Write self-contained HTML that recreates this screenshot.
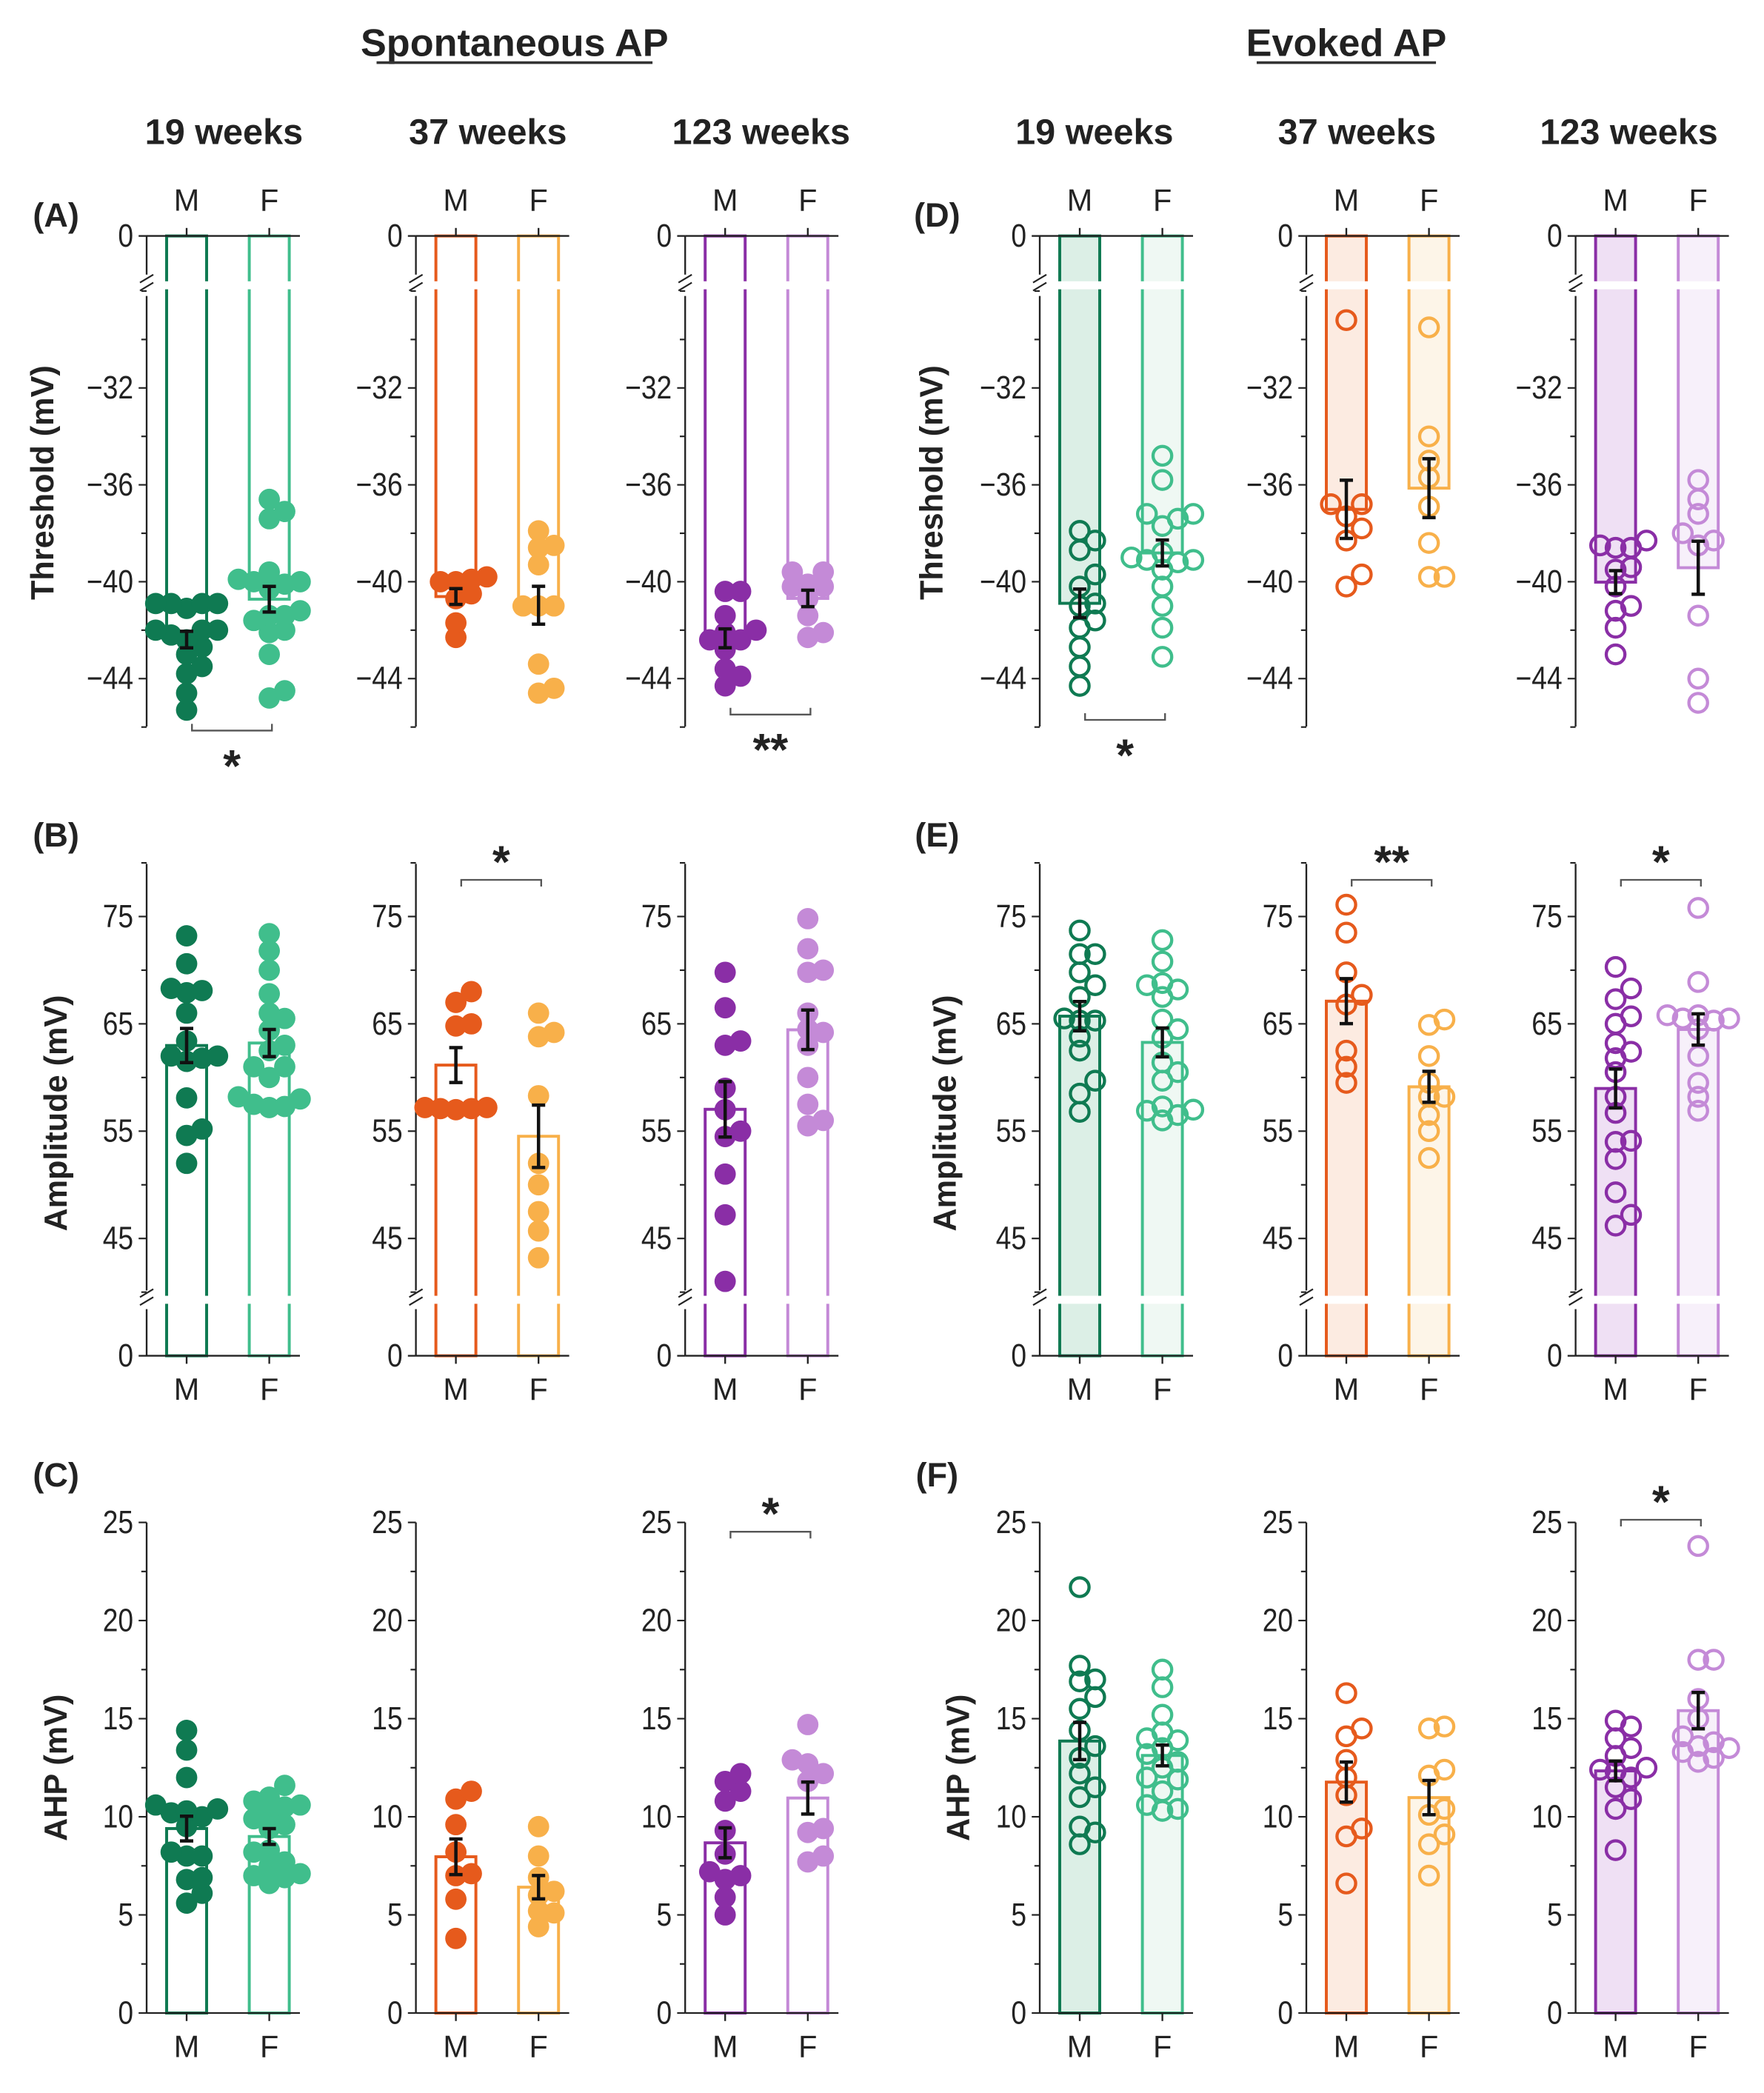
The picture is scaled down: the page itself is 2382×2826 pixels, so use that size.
<!DOCTYPE html>
<html><head><meta charset="utf-8"><style>
html,body{margin:0;padding:0;background:#fff}
svg{display:block}
text{font-family:"Liberation Sans",Arial,sans-serif;fill:#222}
</style></head><body>
<svg id="fig" xmlns="http://www.w3.org/2000/svg" width="2382" height="2826" viewBox="0 0 1323.33 1570"></svg>
<script>
const thrSpM = [[-40.9,-40.9,-40.9,-40.9,-41.1,-42,-42,-42,-42.2,-42.4,-42.7,-43,-43.5,-43.8,-44.6,-45.3],[-39.8,-39.9,-40,-40,-40.5,-40.7,-41.7,-42.3],[-40.4,-40.4,-41.4,-42,-42.1,-42.4,-42.4,-42.8,-43.6,-43.9,-44.3]];
const thrSpF = [[-36.6,-37.1,-37.4,-39.6,-39.9,-40,-40,-40.1,-40.3,-41.2,-41.4,-41.4,-41.6,-42,-42.1,-43,-44.5,-44.8],[-37.9,-38.5,-38.6,-39.3,-41,-41,-41,-43.4,-44.4,-44.6],[-39.6,-39.6,-40.1,-40.2,-40.2,-40.7,-41.4,-42.1,-42.3]];
const thrEvM = [[-37.9,-38.3,-38.7,-39.7,-40.2,-40.9,-41,-41.6,-41.9,-42.7,-43.5,-44.3],[-29.2,-36.8,-36.8,-37.3,-37.8,-38.3,-39.7,-40.2],[-38.3,-38.5,-38.6,-38.6,-39.4,-39.5,-40.2,-41,-41.2,-41.9,-43]];
const thrEvF = [[-34.8,-35.8,-37.2,-37.2,-37.4,-37.7,-38.8,-39,-39.1,-39.1,-39.2,-39.5,-40.2,-41,-41.9,-43.1],[-29.5,-34,-35,-35.7,-36.9,-38.4,-39.8,-39.8],[-35.8,-36.6,-37.2,-38,-38.3,-38.5,-41.4,-44,-45]];
const ampSpM = [[73.2,70.6,68.3,68.1,67.9,66,63.4,62,62,61.8,61.5,58.1,55.2,54.6,52],[68,67,65,64.8,57.2,57.1,57.1,57.2,57],[69.8,66.5,63.4,63,59,57,55,54.5,51,47.2,41]];
const ampSpF = [[73.4,71.8,70,67.8,66,65.5,64.4,63,62.5,61,61,60,58.2,58,57.5,57.3,57.2],[66,64.2,63.8,58.3,52,50,47.5,45.7,43.2],[74.8,72,70,69.8,66,64.5,64.2,63,60,57.5,56,55.5]];
const ampEvM = [[73.7,71.5,71.5,69.8,68.6,67.5,65.5,65.3,65.3,63.8,62.5,59.7,58.5,56.8],[76.1,73.5,69.8,67.7,66.8,62.5,61,59.5],[70.3,68.3,67.3,65.7,65,63.2,62.4,61.8,60.5,58.2,56.7,54.1,54,52.4,49.3,47.2,46.2]];
const ampEvF = [[72.8,70.8,68.6,68.8,68.2,67.5,65.4,64.5,63.7,61.4,60.5,59.7,57.3,57,56.5,56,56.9],[65.4,64.9,62,59.5,58.2,58.2,56.5,55,52.5],[75.8,68.9,65.8,65.8,65.5,65.5,65.3,64.5,62,59.5,58.2,56.9]];
const ahpSpM = [[14.4,13.4,12,10.6,10.4,10.3,10.2,10,9.5,8.2,8,8,6.9,6.8,6.1,5.6],[11.3,10.9,9.6,8.2,7.1,7,5.8,3.8],[12.2,11.8,11.3,10.8,9.3,8.1,7.2,7,6.8,5.9,5]];
const ahpSpF = [[11.6,11,10.8,10.6,10.5,10.2,9.9,9.6,9.4,8.3,8.2,7.7,7.5,7.1,7,6.9,6.6],[9.5,8,6.9,6.2,6,5.2,5.1,4.4],[14.7,12.9,12.7,12.2,11.8,9.4,9.2,8,7.7]];
const ahpEvM = [[21.7,17.7,17,16.9,16.1,15.5,14.4,13.6,13,12.2,11.5,11,9.5,9.2,8.6],[16.3,14.5,14.1,12.9,12,11.1,9.4,9,6.6],[14.9,14.6,14,13.5,13.1,12.5,12.4,12.3,12,11.5,10.9,10.4,8.3]];
const ahpEvF = [[17.5,16.6,15.2,14.3,14,13.9,13.5,13.2,12.8,12.5,12,11.9,11.3,10.6,10.4,10.3],[14.6,14.5,12.4,12.1,10.4,10.1,9.1,8.6,7],[23.8,18,18,16,15,14.1,13.8,13.6,13.5,13.3,13,12.8]];
const weekLabels = ["19 weeks","37 weeks","123 weeks"];
const sexLabels = ["M","F"];
const thrTicks = [-44,-40,-36,-32];
const ampTicks = [45,55,65,75];
const ahpTicks = [0,5,10,15,20,25];

const NS="http://www.w3.org/2000/svg";
const svg=document.getElementById('fig');
function mk(tag,attrs,parent){const e=document.createElementNS(NS,tag);for(const k in attrs)e.setAttribute(k,attrs[k]);(parent||svg).appendChild(e);return e;}
function txt(s,x,y,size,anchor,bold,parent){const t=mk('text',{x:x,y:y,'font-size':size,'text-anchor':anchor||'middle'},parent);if(bold)t.setAttribute('font-weight','bold');t.textContent=s;return t;}
function tick(s,x,y,parent){const t=mk('text',{x:0,y:0,'font-size':24,'text-anchor':'end',transform:`translate(${x} ${y}) scale(0.86 1)`},parent);t.textContent=s;return t;}
const mean=a=>a.reduce((s,v)=>s+v,0)/a.length;
const sem=a=>{const m=mean(a);return Math.sqrt(a.reduce((s,v)=>s+(v-m)*(v-m),0)/(a.length-1))/Math.sqrt(a.length);};

const cols=[["#0f7a52","#40be8c"],["#e65a1c","#f8b04a"],["#8a2ea6","#c48ad7"]];
const tints=[["#dcefe6","#eff8f3"],["#fcebe1","#fdf5e8"],["#efe0f4","#f7f0fa"]];
const axX=[[110,312,514],[780,980,1182]];

function yThrF(v){ if(v>-27) return 177; return 291+(-32-v)*18.17;}
function yAmp(v){ if(v<38) return 1017; return 768-(v-65)*8.05;}
function yAhp(v){ return 1510-v*14.72;}

function swarm(vals,yf,cx,r){
  const pts=[];const order=vals.map((v,i)=>i).sort((a,b)=>vals[a]-vals[b]);
  order.forEach(i=>{const y=yf(vals[i]);let k=0;let x;
    while(true){const off=(k===0?0:(k%2? 1:-1)*Math.ceil(k/2))*r*1.45;x=cx+off;
      if(!pts.some(p=>Math.hypot(p.x-x,p.y-y)<r*1.3))break;k++;if(k>12)break;}
    pts.push({x:x,y:y,v:vals[i]});});
  return pts;
}

function panel(row,grp,w,dM,dF,yf,kind){
  const ax=axX[grp][w];const g=mk('g',{});
  
  
  const xs=[ax+30,ax+92];const data=[dM,dF];const evoked=grp===1;
  const top = kind==='thr'?177:(kind==='amp'?648:1142);
  const bot = kind==='thr'?545:(kind==='amp'?1017:1510);
  data.forEach((d,s)=>{
    const m=mean(d);const c=cols[w][s];
    const y0=kind==='thr'?177:bot;const y1=yf(m);
    const r=mk('rect',{x:xs[s]-15,y:Math.min(y0,y1),width:30,height:Math.abs(y1-y0),fill:evoked?tints[w][s]:'#fff',stroke:c,'stroke-width':2.2},g);
    
    
  });
  if(kind==='thr'){mk('rect',{x:ax+3,y:211,width:xs[1]+20-ax,height:6,fill:'#fff'},g);}
  if(kind==='amp'){mk('rect',{x:ax+3,y:972,width:xs[1]+20-ax,height:6,fill:'#fff'},g);}
  if(kind==='thr'){
    mk('line',{x1:ax,y1:177,x2:ax,y2:206,stroke:'#222','stroke-width':1.3},g);
    mk('line',{x1:ax,y1:222,x2:ax,y2:bot,stroke:'#222','stroke-width':1.3},g);
    mk('line',{x1:ax-5,y1:212,x2:ax+5,y2:206,stroke:'#222','stroke-width':1.2},g);
    mk('line',{x1:ax-5,y1:218,x2:ax+5,y2:212,stroke:'#222','stroke-width':1.2},g);
    mk('line',{x1:ax,y1:177,x2:xs[1]+23,y2:177,stroke:'#222','stroke-width':1.3},g);
    mk('line',{x1:ax-6,y1:177,x2:ax,y2:177,stroke:'#222','stroke-width':1.3},g);
    tick('0',ax-10,185,g);
    xs.forEach((x,s)=>{mk('line',{x1:x,y1:171,x2:x,y2:177,stroke:'#222','stroke-width':1.3},g);txt(sexLabels[s],x,158,23,'middle',false,g);});
    for(let v=-46;v<=-28;v+=2){const y=yf(v);const maj=thrTicks.includes(v);mk('line',{x1:ax-(maj?6:4),y1:y,x2:ax,y2:y,stroke:'#222','stroke-width':1.2},g);if(maj)tick('\u2212'+Math.abs(v),ax-10,y+8,g);}
  } else if(kind==='amp'){
    mk('line',{x1:ax,y1:top,x2:ax,y2:968,stroke:'#222','stroke-width':1.3},g);
    mk('line',{x1:ax,y1:982,x2:ax,y2:bot,stroke:'#222','stroke-width':1.3},g);
    mk('line',{x1:ax-5,y1:973,x2:ax+5,y2:967,stroke:'#222','stroke-width':1.2},g);
    mk('line',{x1:ax-5,y1:979,x2:ax+5,y2:973,stroke:'#222','stroke-width':1.2},g);
    mk('line',{x1:ax,y1:bot,x2:xs[1]+23,y2:bot,stroke:'#222','stroke-width':1.3},g);
    mk('line',{x1:ax-6,y1:bot,x2:ax,y2:bot,stroke:'#222','stroke-width':1.3},g);
    tick('0',ax-10,bot+8,g);
    for(let v=40;v<=80;v+=5){const y=yf(v);const maj=ampTicks.includes(v);mk('line',{x1:ax-(maj?6:4),y1:y,x2:ax,y2:y,stroke:'#222','stroke-width':1.2},g);if(maj)tick(String(v),ax-10,y+8,g);}
    xs.forEach((x,s)=>{mk('line',{x1:x,y1:bot,x2:x,y2:bot+6,stroke:'#222','stroke-width':1.3},g);txt(sexLabels[s],x,bot+33,23,'middle',false,g);});
  } else {
    mk('line',{x1:ax,y1:top,x2:ax,y2:bot,stroke:'#222','stroke-width':1.3},g);
    mk('line',{x1:ax,y1:bot,x2:xs[1]+23,y2:bot,stroke:'#222','stroke-width':1.3},g);
    for(let v=0;v<=25;v+=2.5){const y=yf(v);const maj=ahpTicks.includes(v);mk('line',{x1:ax-(maj?6:4),y1:y,x2:ax,y2:y,stroke:'#222','stroke-width':1.2},g);if(maj)tick(String(v),ax-10,y+8,g);}
    xs.forEach((x,s)=>{mk('line',{x1:x,y1:bot,x2:x,y2:bot+6,stroke:'#222','stroke-width':1.3},g);txt(sexLabels[s],x,bot+33,23,'middle',false,g);});
  }
  data.forEach((d,s)=>{
    const c=cols[w][s];
    swarm(d,yf,xs[s],8).forEach(p=>{
      const e=mk('circle',{cx:p.x,cy:p.y,r:evoked?7:8,fill:evoked?'none':c,stroke:c,'stroke-width':evoked?2.4:0},g);
      
      
    });
  });
  data.forEach((d,s)=>{
    const m=mean(d),se=sem(d);const a=yf(m+se),b=yf(m-se);
    mk('line',{x1:xs[s],y1:a,x2:xs[s],y2:b,stroke:'#111','stroke-width':2.5},g);
    mk('line',{x1:xs[s]-5,y1:a,x2:xs[s]+5,y2:a,stroke:'#111','stroke-width':2.5},g);
    mk('line',{x1:xs[s]-5,y1:b,x2:xs[s]+5,y2:b,stroke:'#111','stroke-width':2.5},g);
  });
  return {g:g,xs:xs};
}
function sig(p,y,below,stars){
  const [x1,x2]=[p.xs[0]+4,p.xs[1]+2];const d=below?-5:5;
  mk('polyline',{points:`${x1},${y+d} ${x1},${y} ${x2},${y} ${x2},${y+d}`,fill:'none',stroke:'#555','stroke-width':1.3},p.g);
  const t=txt(stars,(x1+x2)/2,below?y+38:y-2,34,'middle',true,p.g);
  
  
}

const P={};
for(let w=0;w<3;w++){
  P['A'+w]=panel('A',0,w,thrSpM[w],thrSpF[w],yThrF,'thr');
  P['D'+w]=panel('D',1,w,thrEvM[w],thrEvF[w],yThrF,'thr');
  P['B'+w]=panel('B',0,w,ampSpM[w],ampSpF[w],yAmp,'amp');
  P['E'+w]=panel('E',1,w,ampEvM[w],ampEvF[w],yAmp,'amp');
  P['C'+w]=panel('C',0,w,ahpSpM[w],ahpSpF[w],yAhp,'ahp');
  P['F'+w]=panel('F',1,w,ahpEvM[w],ahpEvF[w],yAhp,'ahp');
}
sig(P.A0,548,true,'*');
sig(P.A2,536,true,'**');
sig(P.D0,540,true,'*');
sig(P.B1,660,false,'*');
sig(P.E1,660,false,'**');
sig(P.E2,660,false,'*');
sig(P.C2,1149,false,'*');
sig(P.F2,1140,false,'*');

[['Spontaneous AP',386,'title-spontaneous'],['Evoked AP',1010,'title-evoked']].forEach(([s,x,n])=>{
  const t=txt(s,x,42,29,'middle',true);t.setAttribute('fill','#333');
  
  
  const wdt=s.length*14.5;mk('line',{x1:x-wdt/2-2,y1:47,x2:x+wdt/2+2,y2:47,stroke:'#333','stroke-width':2});
});
[[168,366,571],[821,1018,1222]].forEach(arr=>arr.forEach((x,w)=>{
  const t=txt(weekLabels[w],x,108,27,'middle',true);
  
  
}));
[['(A)',42,170],['(B)',42,635],['(C)',42,1115],['(D)',703,170],['(E)',703,635],['(F)',703,1115]].forEach(([s,x,y])=>{
  const t=txt(s,x,y,25,'middle',true);t.setAttribute('fill','#333');
  
  
});
[['Threshold (mV)',40,362],['Threshold (mV)',707,362],['Amplitude (mV)',50,835],['Amplitude (mV)',717,835],['AHP (mV)',50,1326],['AHP (mV)',727,1326]].forEach(([s,x,y])=>{
  const t=txt(s,x,y,24,'middle',true);t.setAttribute('transform',`rotate(-90 ${x} ${y})`);
  
  
});
</script>
</body></html>
